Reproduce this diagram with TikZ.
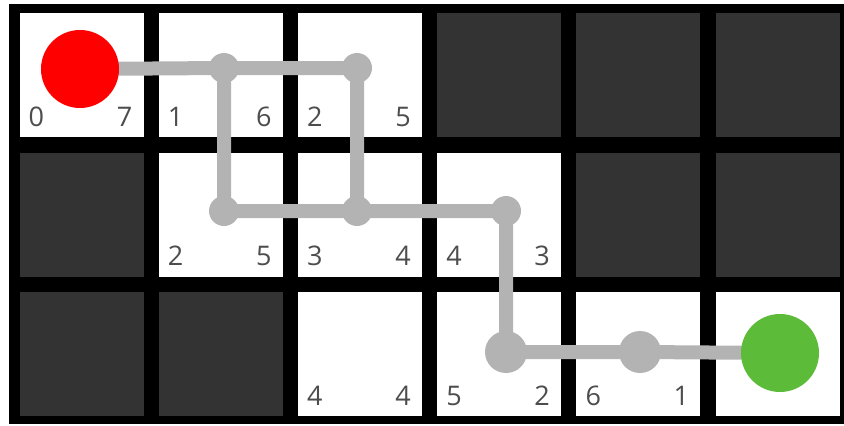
\documentclass[tikz,border=0pt]{standalone}
\usepackage{fontspec}
\setmainfont{Open Sans}
\usetikzlibrary{calc}
\definecolor{walldark}{HTML}{333333}
\definecolor{pathgray}{HTML}{B3B3B3}
\definecolor{labelgray}{HTML}{4D4D4D}
\definecolor{startred}{HTML}{FF0000}
\definecolor{goalgreen}{HTML}{5DBB3A}
\tikzset{
  dot/.style={circle, fill=pathgray, inner sep=0pt, minimum size=30pt},
  bigdot/.style={dot, minimum size=42pt},
  endpt/.style={circle, inner sep=0pt, minimum size=78pt},
  lbl/.style={text=labelgray, inner sep=0pt, font=\fontsize{27}{30}\selectfont},
  link/.style={draw=pathgray, line width=14pt}
}
\begin{document}
\begin{tikzpicture}[x=1pt, y=-1pt]
            \useasboundingbox (0,0) rectangle (844,426);
            \fill[black] (9,4) rectangle (844,424);
            % cells: column/row/fill
            \foreach \c/\r/\f in {0/0/white, 1/0/white, 2/0/white, 3/0/walldark, 4/0/walldark, 5/0/walldark,
                                  0/1/walldark, 1/1/white, 2/1/white, 3/1/white, 4/1/walldark, 5/1/walldark,
                                  0/2/walldark, 1/2/walldark, 2/2/white, 3/2/white, 4/2/white, 5/2/white}
              \fill[\f] ({19.5+139.2*\c},{13+139.5*\r}) rectangle +(124,124);
            % cost labels
            \foreach \c/\r/\g/\h in {0/0/0/7, 1/0/1/6, 2/0/2/5, 1/1/2/5, 2/1/3/4, 3/1/4/3, 2/2/4/4, 3/2/5/2, 4/2/6/1} {
              \node[lbl, anchor=base west] (g-\c-\r) at ({19.5+139.2*\c+9},{13+139.5*\r+113}) {\g};
              \node[lbl, anchor=base east] (h-\c-\r) at ({19.5+139.2*\c+113},{13+139.5*\r+113}) {\h};
            }
            \coordinate (s) at (80,69);
            \coordinate (a) at (224,68);
            \coordinate (b) at (357,68);
            \coordinate (c) at (224,211);
            \coordinate (d) at (357,211);
            \coordinate (e) at (506,211);
            \coordinate (f) at (506,352);
            \coordinate (g) at (640,352);
            \coordinate (t) at (780,353);
            \draw[link] (s) -- (a) -- (b) -- (d);
            \draw[link] (a) -- (c) -- (d) -- (e) -- (f) -- (g) -- (t);
            \node[dot] (A) at (a) {};
            \node[dot] (B) at (b) {};
            \node[dot] (C) at (c) {};
            \node[dot] (D) at (d) {};
            \node[dot] (E) at (e) {};
            \node[bigdot] (F) at (f) {};
            \node[bigdot] (G) at (g) {};
            \node[endpt, fill=startred] (S) at (s) {};
            \node[endpt, fill=goalgreen] (T) at (t) {};
\end{tikzpicture}
\end{document}
